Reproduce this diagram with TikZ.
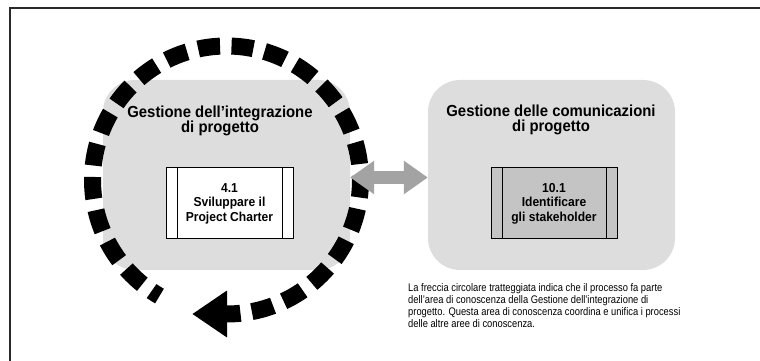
\documentclass[tikz,border=0pt]{standalone}
\usepackage{fontspec}
\setmainfont{Liberation Sans}
\newfontfamily\headfont{Liberation Sans}[FakeStretch=0.93]
\newfontfamily\notefont{Liberation Sans}[FakeStretch=0.85]
\usetikzlibrary{arrows.meta}

\definecolor{areafill}{HTML}{DDDDDD}
\definecolor{procfill}{HTML}{C4C4C4}
\definecolor{linkgray}{HTML}{A3A3A3}
\definecolor{framegray}{HTML}{2A2A2A}

\begin{document}
\begin{tikzpicture}[x=1pt,y=1pt,
  area/.style={fill=areafill, rounded corners=32pt, minimum width=247pt,
    minimum height=190pt, inner sep=0pt},
  areatitle/.style={font=\headfont\bfseries\fontsize{16}{15}\selectfont,
    align=center, inner sep=0pt},
  proc/.style={draw=black, line width=1pt, minimum width=127pt,
    minimum height=71pt, inner sep=0pt, align=center,
    font=\headfont\bfseries\fontsize{13}{14.5}\selectfont},
  loop/.style={line width=17pt, dash pattern=on 22pt off 11.5pt, dash phase=8pt},
  biarrow/.style={linkgray, line width=13pt,
    {Triangle[length=24pt,width=32pt]}-{Triangle[length=24pt,width=32pt]}},
  note/.style={font=\notefont\fontsize{11}{12}\selectfont, align=left, inner sep=0pt}
]
\useasboundingbox (0,0) rectangle (760,361);

% page frame: left and top rules
\draw[framegray, line width=2.3pt] (10,0) -- (10,353) -- (760,353);

% knowledge areas
\node[area] (integ) at (226.5,186) {};
\node[area] (comm) at (551.5,186) {};

% processes
\node[proc, fill=white] (p41) at (229.5,157.5) {4.1\\Sviluppare il\\Project Charter};
\node[proc, fill=procfill, minimum width=126pt] (p101) at (554,157.5)
  {10.1\\Identificare\\gli stakeholder};
\foreach \p in {p41,p101}{
  \draw[line width=1pt] ([xshift=12pt]\p.north west) -- ([xshift=12pt]\p.south west);
  \draw[line width=1pt] ([xshift=-11pt]\p.north east) -- ([xshift=-11pt]\p.south east);
}

% area titles
\node[areatitle] (integT) at (220,239.7) {Gestione dell’integrazione\\di progetto};
\node[areatitle] (commT) at (551,240.7) {Gestione delle comunicazioni\\di progetto};

% dashed circular arrow around the integration area
\coordinate (hub) at (226.5,181);
\draw[loop] ([yshift=-134pt]hub) arc[start angle=-90, end angle=240, radius=134pt];
\fill ([shift={(0.5pt,-110.5pt)}]hub) coordinate (headtop)
  -- ([shift={(0.5pt,-157.5pt)}]hub) coordinate (headbot)
  -- ([shift={(-34pt,-134pt)}]hub) coordinate (headtip) -- cycle;

% link between the two areas
\draw[biarrow] ([yshift=-2.5pt]integ.east) -- ([yshift=-2.5pt]comm.west);

% explanatory note
\node[note, anchor=north west] (legend) at (408,78)
  {La freccia circolare tratteggiata indica che il processo fa parte\\
   dell’area di conoscenza della Gestione dell’integrazione di\\
   progetto. Questa area di conoscenza coordina e unifica i processi\\
   delle altre aree di conoscenza.};
\end{tikzpicture}
\end{document}
